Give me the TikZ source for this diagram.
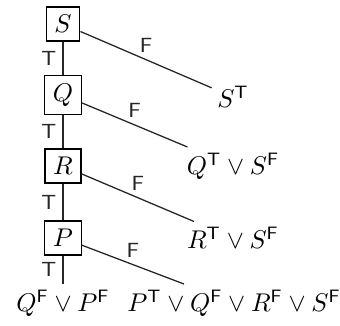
\documentclass[tikz,border=0pt]{standalone}
\newcommand{\tv}{^{\mathsf{T}}}
\newcommand{\fv}{^{\mathsf{F}}}
\begin{document}
\begin{tikzpicture}[x=0.39pt,y=-0.39pt,
  var/.style={draw,line width=0.5pt,inner sep=3.2pt},
  leaf/.style={inner sep=2pt},
  edge/.style={line width=0.5pt,black!85},
  tlab/.style={midway,left,font=\sffamily\footnotesize,inner sep=2.4pt},
  flab/.style={midway,above,font=\sffamily\footnotesize,inner sep=2.6pt}]
\useasboundingbox (0,0) rectangle (340,325);
% decision variables
\node[var] (S) at (63,24) {$S$};
\node[var] (Q) at (63,95) {$Q$};
\node[var] (R) at (63,166) {$R$};
\node[var] (P) at (63,238) {$P$};
% clauses at the leaves
\node[leaf] (ST) at (233,97) {$S\tv$};
\node[leaf] (QS) at (233,166) {$Q\tv\vee S\fv$};
\node[leaf] (RS) at (233,238) {$R\tv\vee S\fv$};
\node[leaf] (PQRS) at (234,303) {$P\tv\vee Q\fv\vee R\fv\vee S\fv$};
\node[leaf] (QP) at (63,303) {$Q\fv\vee P\fv$};
% true branches
\draw[edge] (S) -- node[tlab] {T} (Q);
\draw[edge] (Q) -- node[tlab] {T} (R);
\draw[edge] (R) -- node[tlab] {T} (P);
\draw[edge] (P) -- node[tlab] {T} (QP);
% false branches
\draw[edge] (S) -- node[flab] {F} (ST);
\draw[edge] (Q) -- node[flab] {F} (QS);
\draw[edge] (R) -- node[flab] {F} (RS);
\draw[edge] (P) -- node[flab] {F} (PQRS);
\end{tikzpicture}
\end{document}
